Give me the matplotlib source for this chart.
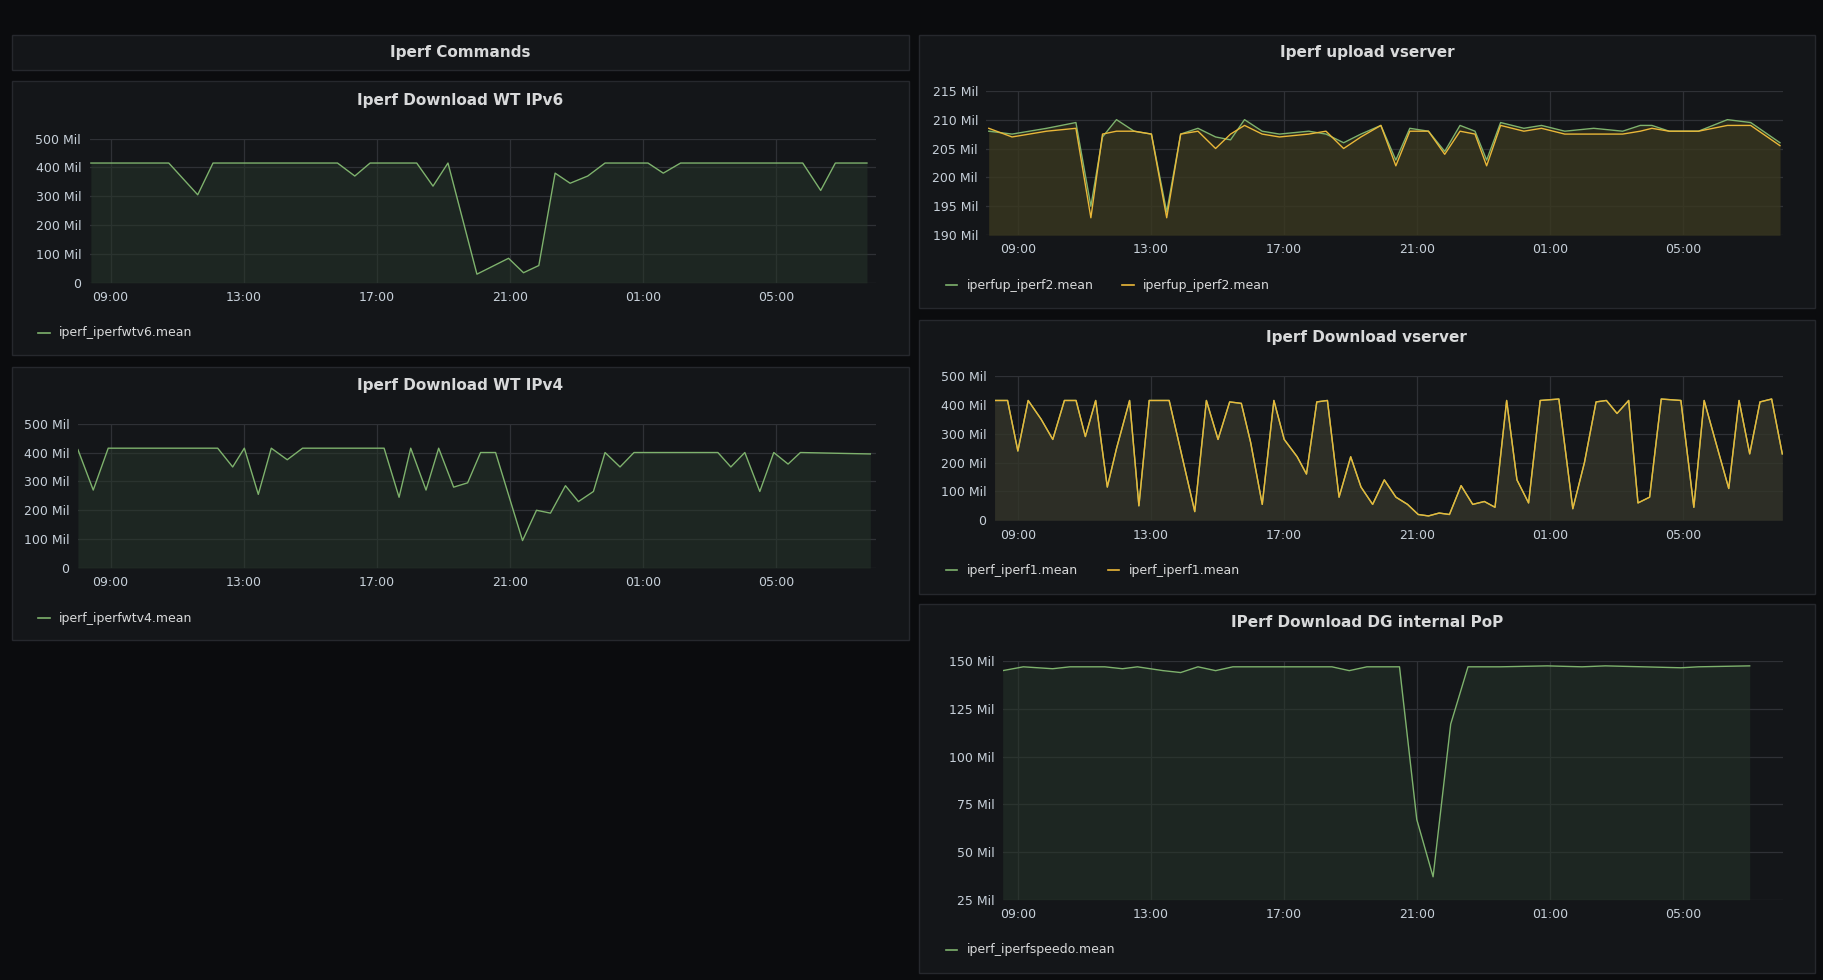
import numpy as np
import matplotlib.pyplot as plt
from matplotlib.patches import Rectangle
from matplotlib.ticker import FuncFormatter, FixedLocator

# ---- data (hours since midnight of day 1, values) ----
v6_t = [8.41, 10.75, 11.62, 12.08, 15.82, 16.34, 16.80, 18.20, 18.69, 19.14, 20.01, 20.96, 21.41,
        21.87, 22.36, 22.81, 23.34, 23.86, 25.15, 25.61, 26.13, 29.80, 30.34, 30.78, 31.73]
v6_v = [415, 415, 305, 415, 415, 370, 415, 415, 335, 415, 30, 85, 35,
        60, 380, 345, 370, 415, 415, 380, 415, 415, 320, 415, 415]

v4_t = [8.02, 8.48, 8.93, 12.22, 12.67, 13.02, 13.44, 13.83, 14.31, 14.77, 17.22, 17.67, 18.02,
        18.48, 18.86, 19.31, 19.73, 20.12, 20.57, 21.38, 21.80, 22.22, 22.67, 23.06, 23.51, 23.86,
        24.31, 24.73, 27.25, 27.64, 28.06, 28.51, 28.93, 29.36, 29.73, 31.83]
v4_v = [410, 270, 415, 415, 350, 415, 255, 415, 375, 415, 415, 245, 415,
        270, 415, 280, 295, 400, 400, 95, 200, 190, 285, 230, 265, 400,
        350, 400, 400, 350, 400, 265, 400, 360, 400, 395]

up_t = [8.13, 8.83, 9.87, 10.75, 11.20, 11.55, 11.97, 12.50, 13.02, 13.48, 13.90, 14.42, 14.95,
        15.40, 15.82, 16.35, 16.87, 17.75, 18.27, 18.80, 19.32, 19.92, 20.37, 20.79, 21.35, 21.84,
        22.30, 22.75, 23.10, 23.52, 24.22, 24.75, 25.45, 26.32, 27.19, 27.72, 28.07, 28.59, 29.47,
        30.34, 31.04, 31.92]
up_green = [208, 207.5, 208.5, 209.5, 195, 207, 210, 208, 207.5, 194, 207.5, 208.5, 207,
            206.5, 210, 208, 207.5, 208, 207.5, 206, 207.5, 209, 203, 208.5, 208, 204.5,
            209, 208, 203, 209.5, 208.5, 209, 208, 208.5, 208, 209, 209, 208, 208,
            210, 209.5, 206]
up_yellow = [208.5, 207, 208, 208.5, 193, 207.5, 208, 208, 207.5, 193, 207.5, 208, 205,
             207.5, 209, 207.5, 207, 207.5, 208, 205, 207, 209, 202, 208, 208, 204,
             208, 207.5, 202, 209, 208, 208.5, 207.5, 207.5, 207.5, 208, 208.5, 208, 208,
             209, 209, 205.5]

dl_t = [8.30, 8.69, 9.00, 9.31, 9.70, 10.05, 10.40, 10.75, 11.03, 11.34, 11.69, 11.97, 12.36,
        12.64, 12.95, 13.55, 14.00, 14.32, 14.67, 15.02, 15.37, 15.72, 16.00, 16.35, 16.70,
        17.01, 17.40, 17.68, 17.99, 18.31, 18.66, 19.01, 19.32, 19.67, 20.02, 20.37, 20.72,
        21.04, 21.35, 21.67, 21.98, 22.33, 22.68, 23.03, 23.35, 23.70, 24.01, 24.36, 24.71,
        25.27, 25.69, 26.04, 26.39, 26.70, 27.02, 27.37, 27.65, 28.00, 28.35, 28.94, 29.33,
        29.64, 29.99, 30.38, 30.69, 31.01, 31.32, 31.67, 31.99]
dl_v = [415, 415, 240, 415, 350, 280, 415, 415, 290, 415, 115, 250, 415,
        50, 415, 415, 190, 30, 415, 280, 410, 405, 270, 55, 415,
        280, 220, 160, 410, 415, 80, 220, 115, 55, 140, 80, 55,
        20, 15, 25, 20, 120, 55, 65, 45, 415, 140, 60, 415,
        420, 40, 200, 410, 415, 370, 415, 60, 80, 420, 415, 45,
        415, 270, 110, 415, 230, 410, 420, 230]

dg_t = [8.55, 9.17, 10.05, 10.57, 11.62, 12.15, 12.60, 13.37, 13.90, 14.42, 14.95, 15.47, 16.52,
        18.45, 18.97, 19.50, 20.48, 21.00, 21.49, 22.02, 22.54, 23.52, 24.92, 25.97, 26.67,
        28.94, 29.47, 31.01]
dg_v = [145, 147, 146, 147, 147, 146, 147, 145, 144, 147, 145, 147, 147,
        147, 145, 147, 147, 67, 37, 117, 147, 147, 147.5, 147, 147.5,
        146.5, 147, 147.5]

GREEN = "#7eb26d"
YELLOW = "#eab839"
BG = "#0b0c0e"
PANEL = "#141619"
EDGE = "#26282d"
TXT = "#d8d9da"
TICK = "#c7d0d9"
W, H = 1568.0, 842.0

fig = plt.figure(figsize=(18.24, 9.8), dpi=100)
fig.patch.set_facecolor(BG)


def rect(x0, y0, x1, y1):
    return [x0 / W, 1 - y1 / H, (x1 - x0) / W, (y1 - y0) / H]


def panel(x0, y0, x1, y1, title, ty):
    r = rect(x0, y0, x1, y1)
    fig.patches.append(Rectangle((r[0], r[1]), r[2], r[3], transform=fig.transFigure,
                                 facecolor=PANEL, edgecolor=EDGE, linewidth=1, zorder=-5))
    fig.text((x0 + x1) / 2 / W, 1 - ty / H, title, color=TXT, fontsize=11, fontweight="bold",
             ha="center", va="center")


def legend(x, y, items):
    for col, name in items:
        fig.lines.append(plt.Line2D([x / W, (x + 10) / W], [1 - y / H] * 2, color=col,
                                    linewidth=1.2, transform=fig.transFigure))
        fig.text((x + 18) / W, 1 - y / H, name, color=TXT, fontsize=9, va="center")
        x += 18 + len(name) * 6.3 + 14


def chart(r, xlim, ylim, yticks, fmt, series, fill):
    ax = fig.add_axes(rect(*r))
    ax.set_zorder(5)
    ax.set_facecolor("none")
    for s in ax.spines.values():
        s.set_visible(False)
    ax.set_xlim(*xlim)
    ax.set_ylim(*ylim)
    ax.xaxis.set_major_locator(FixedLocator([9, 13, 17, 21, 25, 29]))
    ax.xaxis.set_major_formatter(FuncFormatter(lambda v, p: "%02d:00" % (int(round(v)) % 24)))
    ax.set_yticks(yticks)
    ax.yaxis.set_major_formatter(FuncFormatter(fmt))
    ax.tick_params(colors=TICK, labelsize=9, length=0, pad=6)
    ax.grid(True, color="#2f3136", linewidth=0.9)
    ax.set_axisbelow(True)
    for t, v, c in series:
        ax.plot(t, v, color=c, linewidth=1.0, zorder=3)
        ax.fill_between(t, v, ylim[0], color=fill, alpha=0.55, zorder=2, linewidth=0)
    return ax


mil = lambda v, p: "0" if v == 0 else "%d Mil" % v

panel(10, 30, 781, 60, "Iperf Commands", 45)

panel(10, 70, 781, 305, "Iperf Download WT IPv6", 86)
chart((77, 119, 753, 243), (8.37, 32.0), (0, 500), range(0, 501, 100), mil,
      [(v6_t, v6_v, GREEN)], "#26352a")
legend(33, 286, [(GREEN, "iperf_iperfwtv6.mean")])

panel(10, 315, 781, 550, "Iperf Download WT IPv4", 331)
chart((67, 364, 753, 488), (8.02, 32.0), (0, 500), range(0, 501, 100), mil,
      [(v4_t, v4_v, GREEN)], "#26352a")
legend(33, 531, [(GREEN, "iperf_iperfwtv4.mean")])

panel(790, 30, 1560, 265, "Iperf upload vserver", 45)
chart((848, 78, 1533, 202), (8.06, 32.02), (190, 215), range(190, 216, 5), mil,
      [(up_t, up_green, GREEN), (up_t, up_yellow, YELLOW)], "#3a3820")
legend(813, 245, [(GREEN, "iperfup_iperf2.mean"), (YELLOW, "iperfup_iperf2.mean")])

panel(790, 275, 1560, 510, "Iperf Download vserver", 290)
chart((855, 323, 1533, 447), (8.30, 32.02), (0, 500), range(0, 501, 100), mil,
      [(dl_t, dl_v, GREEN), (dl_t, dl_v, YELLOW)], "#34352a")
legend(813, 490, [(GREEN, "iperf_iperf1.mean"), (YELLOW, "iperf_iperf1.mean")])

panel(790, 519, 1560, 836, "IPerf Download DG internal PoP", 535)
chart((862, 568, 1533, 773), (8.55, 32.02), (25, 150), range(25, 151, 25), mil,
      [(dg_t, dg_v, GREEN)], "#26352a")
legend(813, 816, [(GREEN, "iperf_iperfspeedo.mean")])

fig.savefig("out.png", dpi=100, facecolor=BG)
